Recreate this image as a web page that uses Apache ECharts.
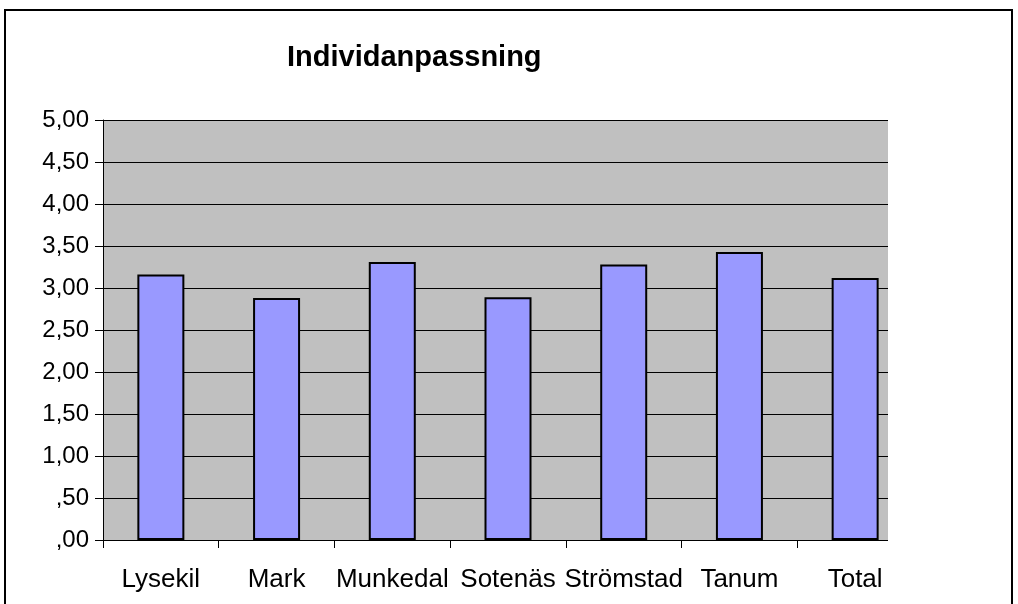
<!DOCTYPE html>
<html>
<head>
<meta charset="utf-8">
<script src="https://cdn.jsdelivr.net/npm/echarts@6/dist/echarts.min.js"></script>
<style>
  html, body { margin: 0; padding: 0; background: #fff; }
  #chart { width: 1018px; height: 604px; }
</style>
</head>
<body>
<div id="chart"></div>
<script>
var categories = ['Lysekil', 'Mark', 'Munkedal', 'Sotenäs', 'Strömstad', 'Tanum', 'Total'];
var values = [3.16, 2.88, 3.31, 2.89, 3.28, 3.43, 3.12];
var yTicks = [0, 0.5, 1, 1.5, 2, 2.5, 3, 3.5, 4, 4.5, 5];

// 0,50 -> ",50" like the original (no leading zero)
function fmt(v) {
    var s = v.toFixed(2).replace('.', ',');
    if (s.charAt(0) === '0') s = s.substring(1);
    return s;
}

var myChart = echarts.init(document.getElementById('chart'));

var option = {
    animation: false,
    backgroundColor: '#ffffff',
    title: {
        text: 'Individanpassning',
        left: 282,
        top: 38,
        textStyle: {
            fontFamily: 'Liberation Sans, Arial',
            fontSize: 29,
            fontWeight: 'bold',
            color: '#000'
        }
    },
    graphic: [
        // the plot area is cut off at the right, as in the original picture
        {
            type: 'rect',
            shape: { x: 888, y: 112, width: 30, height: 440 },
            style: { fill: '#fff' },
            silent: true,
            z: 100
        },
        {
            type: 'rect',
            shape: { x: 5, y: 10, width: 1007, height: 620 },
            style: { fill: 'none', stroke: '#000', lineWidth: 2 },
            silent: true,
            z: 101
        }
    ],
    grid: {
        left: 103,
        right: 105,
        top: 120,
        bottom: 64,
        show: true,
        backgroundColor: '#c0c0c0',
        borderWidth: 0
    },
    xAxis: {
        type: 'category',
        data: categories,
        axisLine: { lineStyle: { color: '#000', width: 1 } },
        axisTick: { show: true, length: 8, lineStyle: { color: '#000' } },
        axisLabel: {
            margin: 27,
            fontFamily: 'Liberation Sans, Arial',
            fontSize: 26,
            color: '#000',
            interval: 0
        }
    },
    yAxis: {
        type: 'value',
        min: yTicks[0],
        max: yTicks[yTicks.length - 1],
        interval: 0.5,
        axisLine: { show: true, lineStyle: { color: '#000', width: 1 } },
        axisTick: { show: true, length: 8, lineStyle: { color: '#000' } },
        splitLine: { show: true, lineStyle: { color: '#000', width: 1 } },
        axisLabel: {
            margin: 14,
            fontFamily: 'Liberation Sans, Arial',
            fontSize: 24,
            color: '#000',
            formatter: fmt
        }
    },
    series: [{
        name: 'Individanpassning',
        type: 'bar',
        data: values,
        barWidth: 47,
        itemStyle: {
            color: '#9999ff',
            borderColor: '#000',
            borderWidth: 2
        }
    }]
};

myChart.setOption(option, true);
</script>
</body>
</html>
